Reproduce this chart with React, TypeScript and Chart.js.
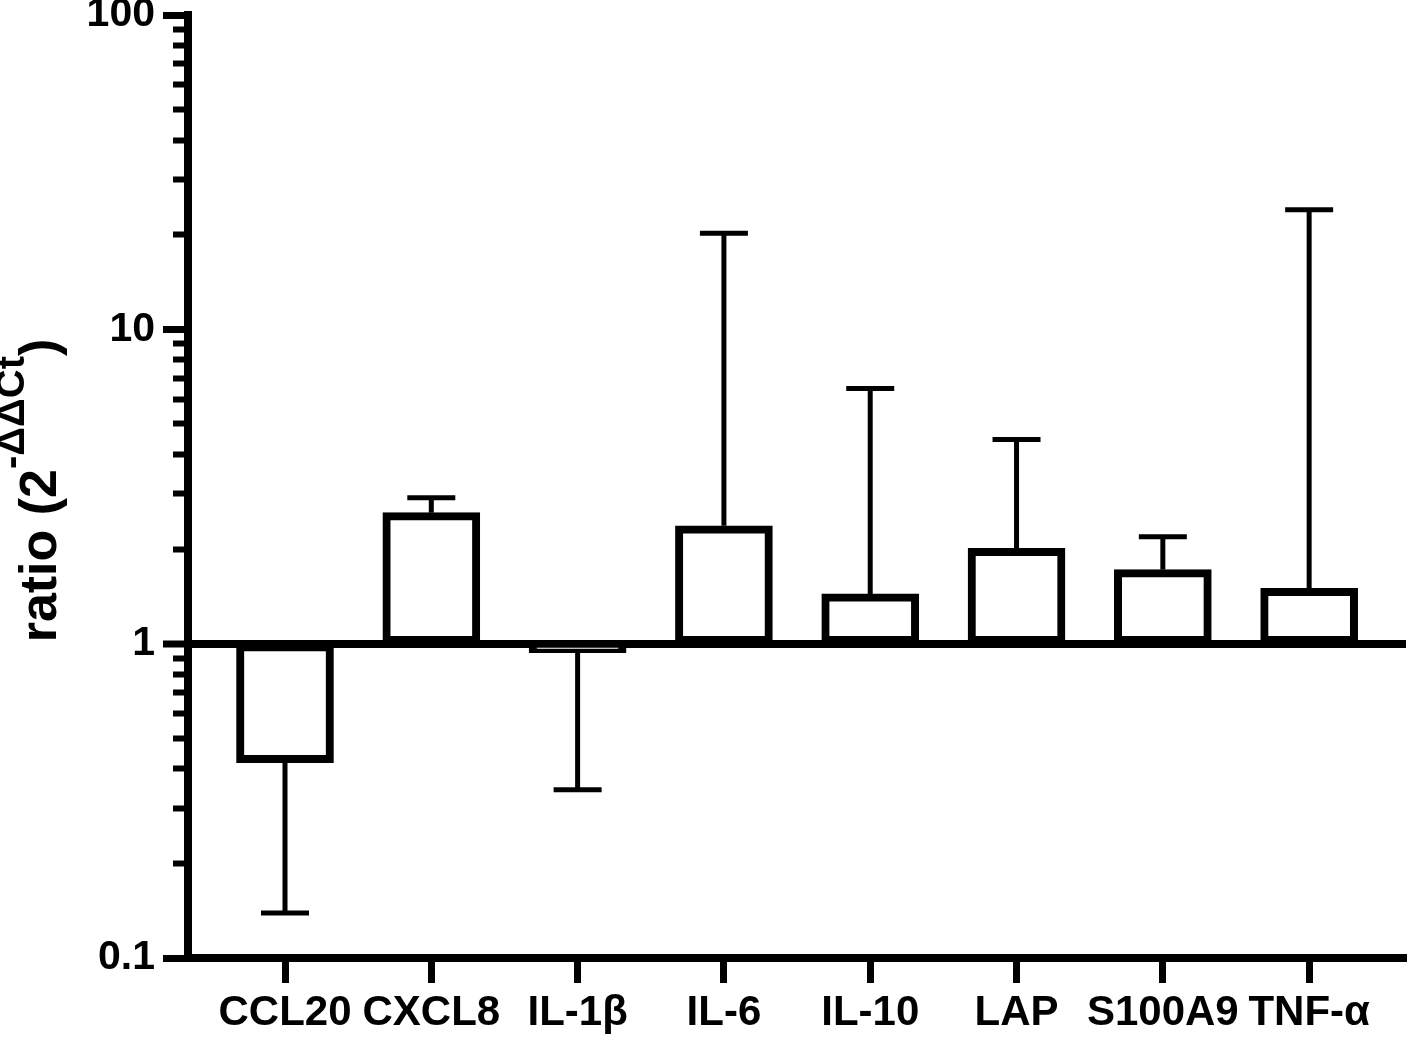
import { useEffect, useRef } from 'react';
import { Chart, registerables } from 'chart.js';

Chart.register(...registerables);

// ---- data ----
const categories = ['CCL20', 'CXCL8', 'IL-1β', 'IL-6', 'IL-10', 'LAP', 'S100A9', 'TNF-α'];
const meanValues = [0.418, 2.61, 0.936, 2.37, 1.44, 2.01, 1.72, 1.5];
const errorEnds = [0.139, 2.91, 0.343, 20.2, 6.48, 4.46, 2.19, 24.0];
const yMajorTicks = [0.1, 1, 10, 100];
const yMinorMultipliers = [2, 3, 4, 5, 6, 7, 8, 9];
const baselineValue = 1;
const yTitleMain = 'ratio (2';
const yTitleSup = '-ΔΔCt';
const yTitleClose = ')';

const FONT = "'Liberation Sans', Arial, Helvetica, sans-serif";

const isMajor = (v: number) => yMajorTicks.some((m) => Math.abs(m - v) < 1e-9);

const errorBarPlugin = {
  id: 'errorBars',
  afterDatasetsDraw(chart: any) {
    const { ctx } = chart;
    const xs = chart.scales.x;
    const ys = chart.scales.y;
    ctx.save();
    ctx.strokeStyle = '#000';
    ctx.lineWidth = 5;
    ctx.lineCap = 'butt';
    categories.forEach((_, i) => {
      const x = xs.getPixelForValue(i);
      const y0 = ys.getPixelForValue(meanValues[i]);
      const y1 = ys.getPixelForValue(errorEnds[i]);
      ctx.beginPath();
      ctx.moveTo(x, y0);
      ctx.lineTo(x, y1);
      ctx.stroke();
      ctx.beginPath();
      ctx.moveTo(x - 24, y1);
      ctx.lineTo(x + 24, y1);
      ctx.stroke();
    });
    ctx.restore();
  },
};

const yTitlePlugin = {
  id: 'yTitle',
  afterDraw(chart: any) {
    const { ctx, chartArea } = chart;
    const cy = (chartArea.top + chartArea.bottom) / 2 + 4;
    ctx.save();
    ctx.fillStyle = '#000';
    ctx.textBaseline = 'alphabetic';
    ctx.textAlign = 'left';
    const mainFont = `bold 52px ${FONT}`;
    const supFont = `bold 40px ${FONT}`;
    ctx.font = mainFont;
    const wMain = ctx.measureText(yTitleMain).width;
    const wClose = ctx.measureText(yTitleClose).width;
    ctx.font = supFont;
    const wSup = ctx.measureText(yTitleSup).width;
    const total = wMain + wSup + wClose;
    ctx.translate(56, cy);
    ctx.rotate(-Math.PI / 2);
    let x = -total / 2;
    ctx.font = mainFont;
    ctx.fillText(yTitleMain, x, 0);
    x += wMain;
    ctx.font = supFont;
    ctx.fillText(yTitleSup, x, -32);
    x += wSup;
    ctx.font = mainFont;
    ctx.fillText(yTitleClose, x, 0);
    ctx.restore();
  },
};

export default function App() {
  const canvasRef = useRef<HTMLCanvasElement | null>(null);

  useEffect(() => {
    document.body.style.margin = '0';
    const canvas = canvasRef.current;
    if (!canvas) return;

    const chart = new Chart(canvas, {
      type: 'bar',
      data: {
        datasets: [
          {
            data: categories.map((_, i) => ({ x: i, y: [baselineValue, meanValues[i]] })) as any,
            backgroundColor: '#ffffff',
            borderColor: '#000000',
            borderWidth: 8,
            borderSkipped: false,
            barThickness: 97,
          },
        ],
      },
      options: {
        responsive: false,
        animation: false,
        devicePixelRatio: 1,
        layout: { padding: { top: 15, right: 10, bottom: 0, left: 0 } },
        plugins: {
          legend: { display: false },
          tooltip: { enabled: false },
          title: { display: false },
        },
        scales: {
          x: {
            type: 'linear',
            position: 'bottom',
            offset: false,
            min: -0.663,
            max: 7.662,
            afterBuildTicks: (s: any) => {
              s.ticks = categories.map((_, i) => ({ value: i }));
            },
            afterFit: (s: any) => {
              s.height = 83;
              s.paddingLeft = 0;
              s.paddingRight = 0;
            },
            ticks: {
              autoSkip: false,
              maxRotation: 0,
              minRotation: 0,
              padding: 5,
              color: '#000',
              font: { family: FONT, size: 42, weight: 'bold' },
              callback: (v: any) => categories[Math.round(Number(v))] ?? '',
            },
            grid: {
              display: true,
              offset: false,
              drawOnChartArea: false,
              drawTicks: true,
              tickLength: 25,
              tickWidth: 7,
              tickColor: '#000',
            },
            border: { display: true, color: '#000', width: 8 },
          },
          y: {
            type: 'logarithmic',
            position: 'left',
            min: 0.1,
            max: 100,
            afterBuildTicks: (s: any) => {
              const t: { value: number }[] = [];
              for (let d = 0; d < yMajorTicks.length; d++) {
                t.push({ value: yMajorTicks[d] });
                if (d < yMajorTicks.length - 1) {
                  yMinorMultipliers.forEach((m) => t.push({ value: Math.round(m * yMajorTicks[d] * 1000) / 1000 }));
                }
              }
              s.ticks = t;
            },
            afterFit: (s: any) => {
              s.width = 188;
              s.paddingTop = 0;
              s.paddingBottom = 0;
            },
            ticks: {
              autoSkip: false,
              padding: 8,
              color: '#000',
              font: { family: FONT, size: 41, weight: 'bold' },
              callback: (v: any) => (isMajor(Number(v)) ? String(v) : ''),
            },
            grid: {
              display: true,
              drawOnChartArea: true,
              drawTicks: true,
              tickLength: 25,
              color: (c: any) => (c.tick && Math.abs(c.tick.value - baselineValue) < 1e-9 ? '#000' : 'rgba(0,0,0,0)'),
              lineWidth: (c: any) => (c.tick && Math.abs(c.tick.value - baselineValue) < 1e-9 ? 8 : 1),
              tickColor: '#000',
              tickWidth: (c: any) => (c.tick && isMajor(c.tick.value) ? 7 : 6),
              tickBorderDash: (c: any) => (c.tick && isMajor(c.tick.value) ? [] : [0, 10, 100]),
            },
            border: { display: true, color: '#000', width: 8 },
          },
        },
      } as any,
      plugins: [errorBarPlugin, yTitlePlugin],
    });

    return () => {
      chart.destroy();
    };
  }, []);

  return (
    <div style={{ width: 1416, height: 1041, background: '#fff' }}>
      <canvas ref={canvasRef} width={1416} height={1041} style={{ display: 'block', width: 1416, height: 1041 }} />
    </div>
  );
}
